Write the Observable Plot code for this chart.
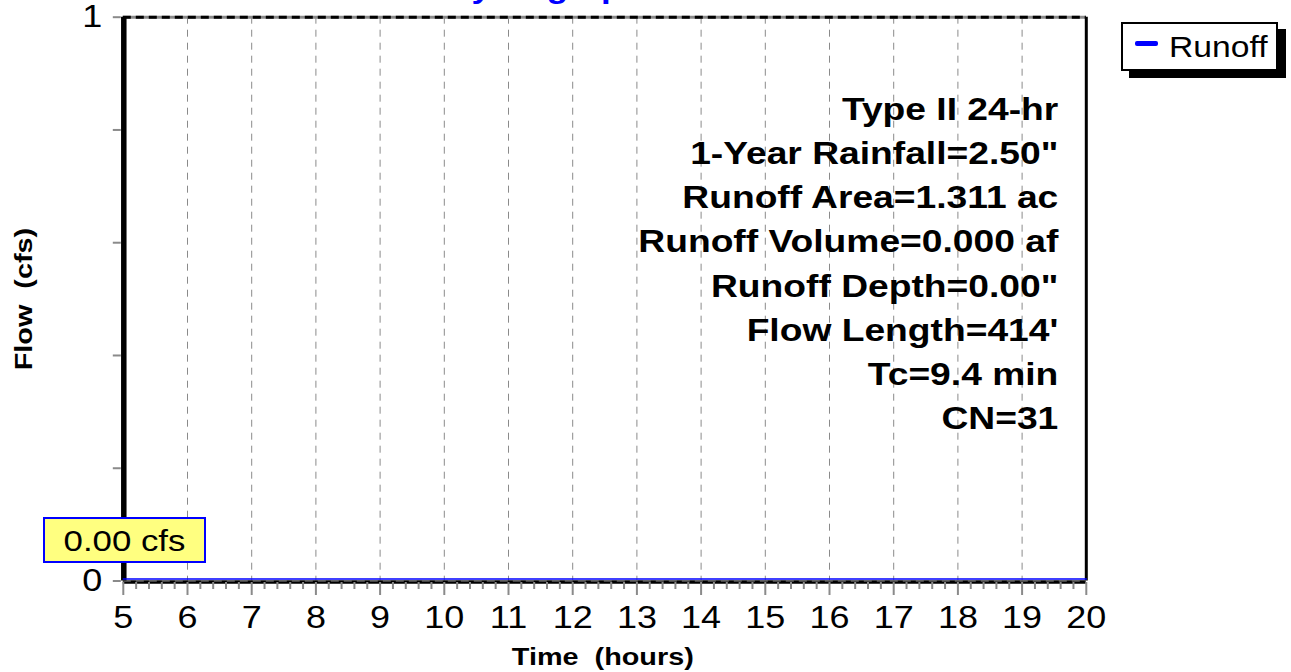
<!DOCTYPE html>
<html>
<head>
<meta charset="utf-8">
<script src="https://cdn.jsdelivr.net/npm/d3@7"></script>
<script src="https://cdn.jsdelivr.net/npm/@observablehq/plot@0.6"></script>
<style>
  html, body { margin: 0; padding: 0; background: #fff; }
  body { font-family: "Liberation Sans", Arial, sans-serif; }
  #wrap { position: relative; width: 1291px; height: 672px; overflow: hidden; background: #fff; }
  #wrap svg { position: absolute; left: 0; top: 0; }
  .peak { position: absolute; left: 43px; top: 517px; width: 163px; height: 46px; box-sizing: border-box;
          border: 2px solid #0000ff; background: #ffff80; }
  .peak span { position: absolute; left: 0; width: 100%; top: 5px; text-align: center; font-size: 30px; line-height: 34px;
          transform: scaleX(1.16); transform-origin: center; color: #000; }
  .legend { position: absolute; left: 1121px; top: 22px; width: 157px; height: 49px; box-sizing: border-box;
            border: 2px solid #000; background: #fff; box-shadow: 8px 7px 0 #000; }
  .legend .sw { position: absolute; left: 12px; top: 17px; width: 23px; height: 5px; background: #0000ff; border-radius: 2px; }
  .legend .lb { position: absolute; left: 46px; top: 6px; font-size: 29px; line-height: 34px; color: #000;
                transform: scaleX(1.16); transform-origin: left center; white-space: nowrap; }
</style>
</head>
<body>
<div id="wrap"></div>
<script>
// ---- data ----
const titleText = "Hydrograph";
const seriesName = "Runoff";
const hours = [5, 6, 7, 8, 9, 10, 11, 12, 13, 14, 15, 16, 17, 18, 19, 20];
const runoff = [0, 0, 0, 0, 0, 0, 0, 0, 0, 0, 0, 0, 0, 0, 0, 0];
const xTicks = [5, 6, 7, 8, 9, 10, 11, 12, 13, 14, 15, 16, 17, 18, 19, 20];
const yTicks = [0, 0.2, 0.4, 0.6, 0.8, 1];
const yTickLabels = ["0", "", "", "", "", "1"];
const annotations = [
  "Type II 24-hr",
  "1-Year Rainfall=2.50\"",
  "Runoff Area=1.311 ac",
  "Runoff Volume=0.000 af",
  "Runoff Depth=0.00\"",
  "Flow Length=414'",
  "Tc=9.4 min",
  "CN=31"
];
const peakLabel = "0.00 cfs";
const xLabel = "Time  (hours)";
const yLabel = "Flow  (cfs)";

// ---- chart ----
const W = 1291, H = 672;
const mL = 122.8, mR = 205.2, mT = 16.7, mB = 91.5;
const series = hours.map((h, i) => ({hour: h, flow: runoff[i]}));
const minorTicks = d3.range(50, 201, 2).map(v => v / 10).filter(v => !xTicks.includes(v));
const yLabelMap = new Map(yTicks.map((t, i) => [t, yTickLabels[i]]));
const font = "Liberation Sans, Arial, sans-serif";

const chart = Plot.plot({
  width: W, height: H,
  marginLeft: mL, marginRight: mR, marginTop: mT, marginBottom: mB,
  x: {domain: [5, 20]},
  y: {domain: [0, 1]},
  style: {fontFamily: font, background: "white", color: "black", overflow: "visible"},
  marks: [
    // vertical dashed grid
    Plot.ruleX(xTicks.slice(1, -1), {stroke: "#8a8a8a", strokeWidth: 1, strokeDasharray: "7,6"}),
    // top frame: gray with black dashes
    Plot.ruleY([1], {stroke: "#8a8a8a", strokeWidth: 3}),
    Plot.ruleY([1], {stroke: "#000", strokeWidth: 3, strokeDasharray: "8,5"}),
    // right frame
    Plot.ruleX([20], {stroke: "#000", strokeWidth: 3}),
    // bottom frame
    Plot.ruleY([0], {stroke: "#000", strokeWidth: 3.5, dy: 1}),
    Plot.ruleY([0], {stroke: "#8a8a8a", strokeWidth: 1, dy: 0, strokeDasharray: "8,5"}),
    // minor x ticks
    Plot.axisX({ticks: minorTicks, tickSize: 7, dy: 1.5, stroke: "#8a8a8a", strokeWidth: 2, tickFormat: () => "", label: null}),
    // major x ticks + labels
    Plot.axisX({ticks: xTicks, tickSize: 13, dy: 1.5, tickPadding: 10, stroke: "#8a8a8a", strokeWidth: 2,
                fill: "black", fontSize: 31, tickFormat: d => String(d), label: null}),
    // y ticks + labels
    Plot.axisY({ticks: yTicks, tickSize: 8, dx: -2, tickPadding: 11, stroke: "#8a8a8a", strokeWidth: 2,
                fill: "black", fontSize: 31, tickFormat: d => yLabelMap.get(d), label: null}),
    // left thick axis line
    Plot.ruleX([5], {stroke: "#000", strokeWidth: 5.5, dx: 0.5}),
    // runoff series
    Plot.line(series, {x: "hour", y: "flow", stroke: "#0000ff", strokeWidth: 1.6, dy: -2}),
    // title (mostly cut off at top, as in the reference)
    Plot.text([titleText], {frameAnchor: "top-left", textAnchor: "start", lineAnchor: "bottom",
                dx: 323, dy: -19.7, fill: "#0000ff", fontSize: 29, fontWeight: "bold"}),
    // annotations
    ...annotations.map((s, i) => Plot.text([s], {frameAnchor: "top-right", textAnchor: "end", lineAnchor: "bottom",
                dx: -28, dy: 102.6 + i * 44.2, fill: "black", fontSize: 31, fontWeight: "bold"})),
    // axis labels
    Plot.text([xLabel], {frameAnchor: "bottom", lineAnchor: "middle", dx: -2, dy: 76.5,
                fill: "black", fontSize: 24, fontWeight: "bold"}),
    Plot.text([yLabel], {frameAnchor: "left", textAnchor: "middle", lineAnchor: "middle", rotate: -90, dx: -99, dy: 0,
                fill: "black", fontSize: 24, fontWeight: "bold"})
  ]
});

const wrap = document.getElementById("wrap");
wrap.append(chart);

// peak label and legend overlays
const peak = document.createElement("div");
peak.className = "peak";
peak.innerHTML = `<span>${peakLabel}</span>`;
wrap.append(peak);

const legend = document.createElement("div");
legend.className = "legend";
legend.innerHTML = `<div class="sw"></div><div class="lb">${seriesName}</div>`;
wrap.append(legend);

// widen glyphs horizontally to match the reference's wide sans face
chart.querySelectorAll("text").forEach(t => {
  const len = t.getComputedTextLength();
  if (!len) return;
  const bold = +getComputedStyle(t).fontWeight >= 600;
  const k = bold ? 1.2 : 1.16;
  t.setAttribute("textLength", (len * k).toFixed(2));
  t.setAttribute("lengthAdjust", "spacingAndGlyphs");
});
</script>
</body>
</html>
